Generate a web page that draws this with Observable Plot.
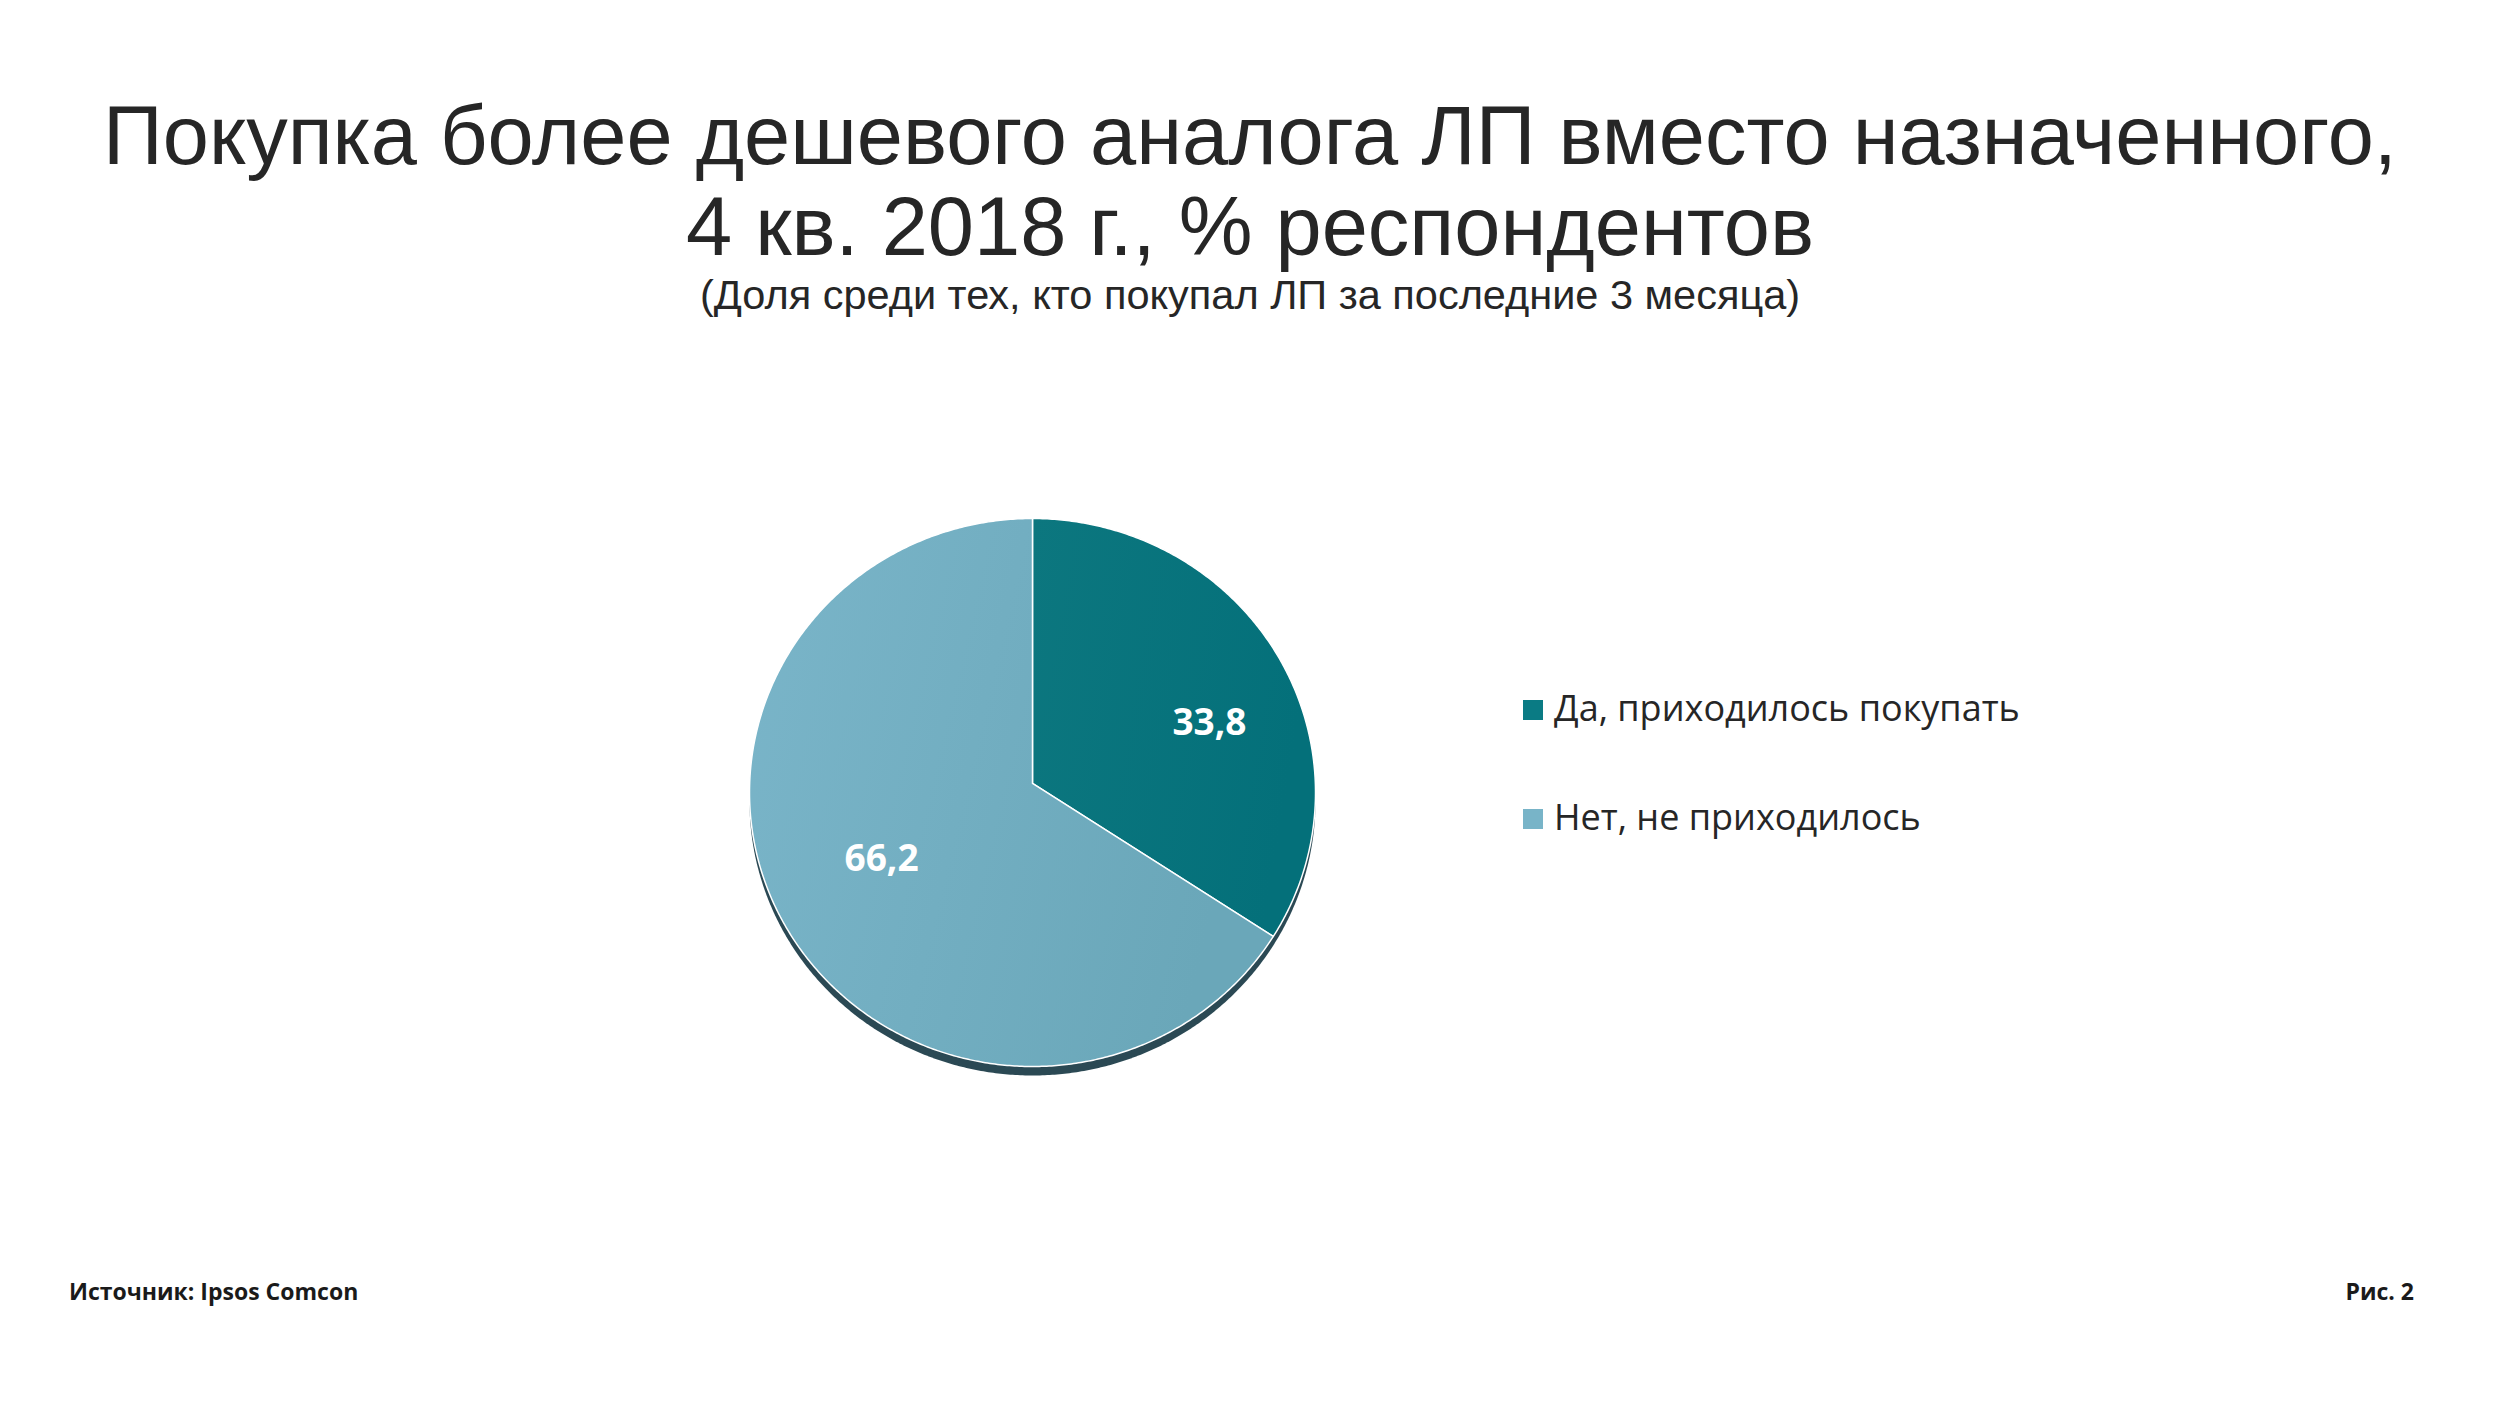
<!DOCTYPE html>
<html>
<head>
<meta charset="utf-8">
<script src="https://cdn.jsdelivr.net/npm/d3@7"></script>
<script src="https://cdn.jsdelivr.net/npm/@observablehq/plot@0.6"></script>
<style>
  html, body { margin: 0; padding: 0; background: #ffffff; }
  #page { position: relative; width: 2500px; height: 1406px; overflow: hidden; background: #ffffff; }
  #chart { position: absolute; left: 0; top: 0; }
  .title { position: absolute; left: 0; width: 2500px; text-align: center; white-space: nowrap;
           font-family: "Liberation Sans", Arial, sans-serif; color: #262626; line-height: 1; }
  .legend-item { position: absolute; left: 1523px; height: 0; }
  .swatch { position: absolute; left: 0; width: 20px; height: 20px; }
  .legend-text { position: absolute; left: 31px; white-space: nowrap; font-family: "Open Sans", sans-serif;
                 font-size: 36px; line-height: 1; color: #262626; }
  .foot { position: absolute; font-family: "Open Sans", sans-serif; font-weight: bold; font-size: 23px;
          line-height: 1; color: #1a1a1a; white-space: nowrap; }
</style>
</head>
<body>
<div id="page">
  <div id="chart"></div>
  <div class="title" id="t1" style="top:94px;font-size:83px;"></div>
  <div class="title" id="t2" style="top:185px;font-size:83px;"></div>
  <div class="title" id="t3" style="top:274px;font-size:41.5px;"></div>
  <div id="legend"></div>
  <div class="foot" id="src" style="left:69px;top:1280px;"></div>
  <div class="foot" id="fig" style="right:86px;top:1280px;"></div>
</div>
<script>
// ---- data ----
const titleLines = ["Покупка более дешевого аналога ЛП вместо назначенного,", "4 кв. 2018 г., % респондентов"];
const subtitle = "(Доля среди тех, кто покупал ЛП за последние 3 месяца)";
const categories = ["Да, приходилось покупать", "Нет, не приходилось"];
const values = [33.8, 66.2];
const valueLabels = ["33,8", "66,2"];
const legendColors = ["#0A7B84", "#78B4C8"];
const sourceText = "Источник: Ipsos Comcon";
const figureText = "Рис. 2";

// ---- layout (styles) ----
const CX = 1032, CY = 792, RX = 283, RY = 274;
const TILT = -0.033;        // apparent vertex shift of the slightly tilted pie
const LABEL_R = 0.63, LABEL_ROT = 6 * Math.PI / 180;

// ---- pie geometry from values ----
const arcs = d3.pie().sort(null).value(d => d)(values);
const slicePts = [];
arcs.forEach((a, i) => {
  const cat = categories[i];
  slicePts.push({cat, x: 0, y: TILT});
  const n = Math.max(2, Math.ceil((a.endAngle - a.startAngle) / (Math.PI / 360)));
  for (let k = 0; k <= n; k++) {
    const t = a.startAngle + (a.endAngle - a.startAngle) * k / n;
    slicePts.push({cat, x: Math.sin(t), y: -Math.cos(t)});
  }
  slicePts.push({cat, x: 0, y: TILT});
});
const fullArc = d3.pie().value(d => d)([d3.sum(values)])[0];
const shadowPts = d3.range(0, 721).map(k => {
  const t = fullArc.startAngle + (fullArc.endAngle - fullArc.startAngle) * k / 720;
  return {x: Math.sin(t), y: -Math.cos(t)};
});
const labelPts = arcs.map((a, i) => {
  const m = (a.startAngle + a.endAngle) / 2 + LABEL_ROT;
  return {x: LABEL_R * Math.sin(m), y: TILT - LABEL_R * Math.cos(m), text: valueLabels[i]};
});

const chart = Plot.plot({
  width: 2500,
  height: 1406,
  margin: 0,
  x: {domain: [-1, 1], range: [CX - RX, CX + RX], axis: null},
  y: {domain: [-1, 1], range: [CY - RY, CY + RY], axis: null},
  color: {domain: categories, range: ["url(#gDark)", "url(#gLight)"]},
  style: {background: "transparent"},
  marks: [
    Plot.line(shadowPts, {x: "x", y: "y", fill: "#2B4954", stroke: "none", dy: 9}),
    Plot.line(slicePts, {x: "x", y: "y", z: "cat", fill: "cat", stroke: "#ffffff", strokeWidth: 1.5, strokeLinejoin: "round"}),
    Plot.text(labelPts, {x: "x", y: "y", text: "text", fill: "#ffffff", fontSize: 37, fontWeight: "bold", fontFamily: "Open Sans", dx: 13, dy: 8})
  ]
});
const defs = document.createElementNS("http://www.w3.org/2000/svg", "defs");
defs.innerHTML =
  '<linearGradient id="gDark" x1="0" y1="0" x2="1" y2="0.25">' +
  '<stop offset="0" stop-color="#0C777F"/><stop offset="1" stop-color="#04707A"/></linearGradient>' +
  '<linearGradient id="gLight" x1="0" y1="0" x2="1" y2="0.25">' +
  '<stop offset="0" stop-color="#7AB5C9"/><stop offset="1" stop-color="#6AA7B9"/></linearGradient>';
chart.insertBefore(defs, chart.firstChild);
document.getElementById("chart").appendChild(chart);

// ---- texts ----
document.getElementById("t1").textContent = titleLines[0];
document.getElementById("t2").textContent = titleLines[1];
document.getElementById("t3").textContent = subtitle;
document.getElementById("src").textContent = sourceText;
document.getElementById("fig").textContent = figureText;

const legendTops = [700, 809];
const legend = document.getElementById("legend");
categories.forEach((c, i) => {
  const item = document.createElement("div");
  item.className = "legend-item";
  item.style.top = legendTops[i] + "px";
  const sw = document.createElement("div");
  sw.className = "swatch";
  sw.style.background = legendColors[i];
  sw.style.top = "0px";
  const tx = document.createElement("div");
  tx.className = "legend-text";
  tx.style.top = "-10px";
  tx.textContent = c;
  item.appendChild(sw);
  item.appendChild(tx);
  legend.appendChild(item);
});
</script>
</body>
</html>
